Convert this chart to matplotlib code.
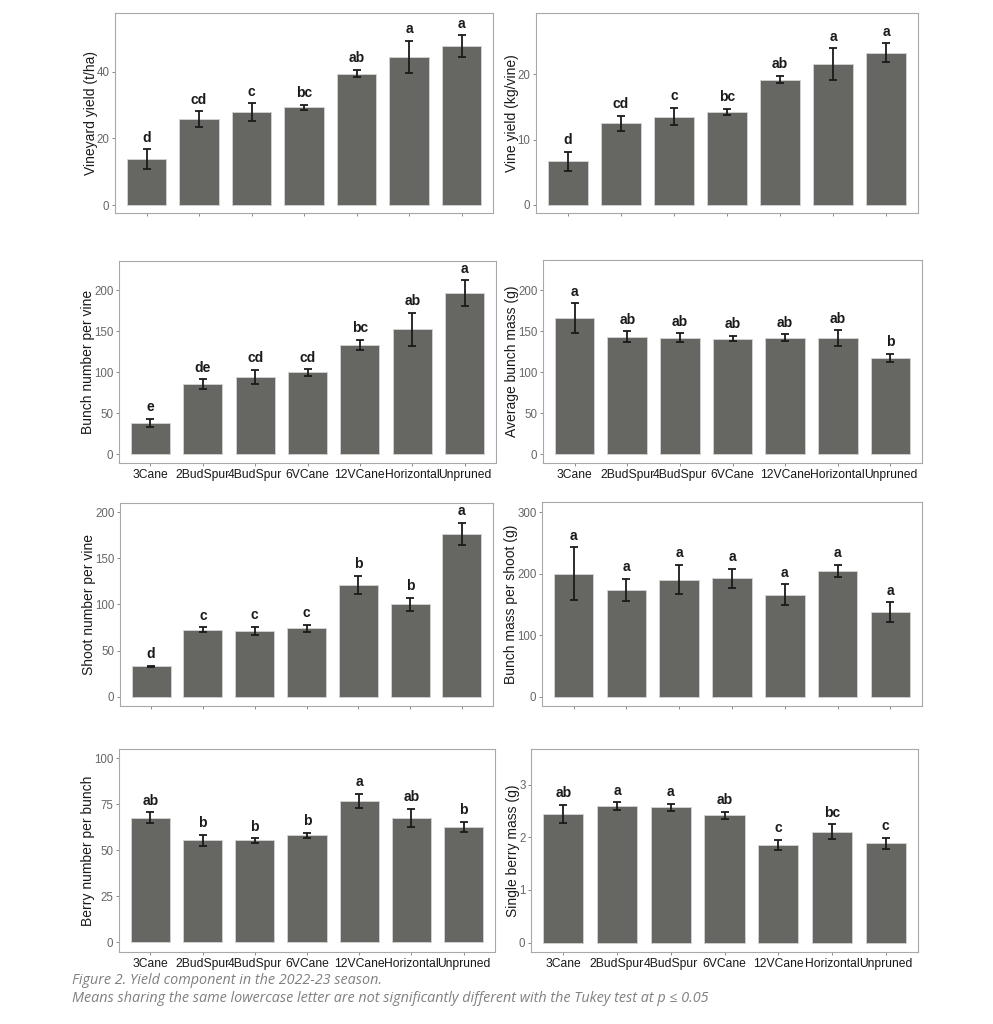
import numpy as np
import matplotlib
matplotlib.use('Agg')
import matplotlib.pyplot as plt

plt.rcParams['font.family'] = ['Liberation Sans', 'DejaVu Sans']

treatments = ['3Cane', '2BudSpur', '4BudSpur', '6VCane', '12VCane', 'Horizontal', 'Unpruned']

# means, error half-widths and Tukey letters for each panel
vineyard_yield = [13.8, 25.8, 27.9, 29.4, 39.5, 44.5, 47.8]
vineyard_yield_err = [2.9, 2.4, 2.7, 0.8, 1.1, 4.9, 3.2]
vineyard_yield_let = ['d', 'cd', 'c', 'bc', 'ab', 'a', 'a']

vine_yield = [6.67, 12.5, 13.5, 14.25, 19.2, 21.6, 23.3]
vine_yield_err = [1.43, 1.15, 1.35, 0.45, 0.55, 2.4, 1.45]
vine_yield_let = ['d', 'cd', 'c', 'bc', 'ab', 'a', 'a']

bunch_number = [38.6, 85.8, 94.3, 100.0, 134.0, 152.4, 196.7]
bunch_number_err = [5.1, 5.9, 8.7, 3.9, 6.1, 20.5, 15.7]
bunch_number_let = ['e', 'de', 'cd', 'cd', 'bc', 'ab', 'a']

bunch_mass = [166.3, 143.5, 142.3, 141.0, 142.3, 141.9, 117.5]
bunch_mass_err = [17.9, 6.5, 5.3, 3.3, 4.3, 9.4, 4.9]
bunch_mass_let = ['a', 'ab', 'ab', 'ab', 'ab', 'ab', 'b']

shoot_number = [33.0, 72.5, 71.4, 73.9, 121.0, 100.0, 176.4]
shoot_number_err = [0.75, 2.9, 4.4, 3.8, 10.0, 7.1, 12.0]
shoot_number_let = ['d', 'c', 'c', 'c', 'b', 'b', 'a']

mass_per_shoot = [200.5, 173.9, 190.8, 193.0, 166.3, 204.9, 137.5]
mass_per_shoot_err = [42.7, 17.9, 24.2, 15.2, 17.1, 9.8, 16.3]
mass_per_shoot_let = ['a', 'a', 'a', 'a', 'a', 'a', 'a']

berry_number = [67.7, 55.4, 55.4, 58.1, 76.8, 67.7, 62.8]
berry_number_err = [2.9, 3.2, 1.2, 1.55, 3.9, 5.0, 2.6]
berry_number_let = ['ab', 'b', 'b', 'b', 'a', 'ab', 'b']

berry_mass = [2.45, 2.59, 2.57, 2.42, 1.86, 2.11, 1.89]
berry_mass_err = [0.17, 0.075, 0.07, 0.065, 0.095, 0.135, 0.105]
berry_mass_let = ['ab', 'a', 'a', 'ab', 'c', 'bc', 'c']

panels = [
    # (pixel box x0, y0, x1, y1), ylabel, means, err, letters, ylim, yticks, show x labels
    ((115, 13, 493, 213), 'Vineyard yield (t/ha)', vineyard_yield, vineyard_yield_err,
     vineyard_yield_let, (-2.4, 57.7), [0, 20, 40], False),
    ((536, 13, 918, 213), 'Vine yield (kg/vine)', vine_yield, vine_yield_err,
     vine_yield_let, (-1.27, 29.4), [0, 10, 20], False),
    ((119, 261, 496, 463), 'Bunch number per vine', bunch_number, bunch_number_err,
     bunch_number_let, (-10.6, 236), [0, 50, 100, 150, 200], True),
    ((543, 260, 922, 463), 'Average bunch mass (g)', bunch_mass, bunch_mass_err,
     bunch_mass_let, (-10.6, 237), [0, 50, 100, 150, 200], True),
    ((120, 503, 493, 706), 'Shoot number per vine', shoot_number, shoot_number_err,
     shoot_number_let, (-10.1, 209.8), [0, 50, 100, 150, 200], False),
    ((542, 502, 922, 706), 'Bunch mass per shoot (g)', mass_per_shoot, mass_per_shoot_err,
     mass_per_shoot_let, (-14.7, 316.8), [0, 100, 200, 300], False),
    ((119, 749, 495, 952), 'Berry number per bunch', berry_number, berry_number_err,
     berry_number_let, (-5.3, 105.1), [0, 25, 50, 75, 100], True),
    ((531, 749, 918, 952), 'Single berry mass (g)', berry_mass, berry_mass_err,
     berry_mass_let, (-0.18, 3.68), [0, 1, 2, 3], True),
]

W, H = 993, 1024
fig = plt.figure(figsize=(W / 100, H / 100), dpi=100)

x = np.arange(len(treatments))
for box, ylab, means, err, letters, ylim, yticks, xlabels in panels:
    x0, y0, x1, y1 = box
    ax = fig.add_axes([x0 / W, 1 - y1 / H, (x1 - x0) / W, (y1 - y0) / H])
    ax.bar(x, means, width=0.75, color='#666763', edgecolor='#d4d4d4', linewidth=0.6, zorder=2)
    ax.errorbar(x, means, yerr=err, fmt='none', ecolor='#1a1a1a', elinewidth=1.3,
                capsize=2.8, capthick=1.3, zorder=3)
    # Tukey letters above the error bars
    for xi, m, e, lab in zip(x, means, err, letters):
        ax.annotate(lab, (xi, m + e), xytext=(0, 8.3), textcoords='offset points',
                    ha='center', va='center', fontsize=10, fontweight='bold', color='#1a1a1a')
    ax.set_xlim(-0.6, 6.6)
    ax.set_ylim(*ylim)
    ax.set_yticks(yticks)
    ax.set_xticks(x)
    if xlabels:
        ax.set_xticklabels(treatments, fontsize=8.7, color='#1a1a1a')
    else:
        ax.set_xticklabels([])
    ax.tick_params(axis='y', labelsize=8.3, labelcolor='#666666', color='#777777',
                   length=2.5, width=0.6, pad=1.5)
    ax.tick_params(axis='x', color='#777777', length=2.5, width=0.6, pad=1.5)
    ax.set_ylabel(ylab, fontsize=10, color='#1a1a1a', labelpad=-1)
    for s in ax.spines.values():
        s.set_color('#a8a8a8')
        s.set_linewidth(0.8)

fig.text(72 / W, 1 - 981 / H, 'Figure 2. Yield component in the 2022-23 season.',
         fontsize=10.4, style='italic', color='#808080', family=['Open Sans', 'DejaVu Sans'],
         va='center', ha='left')
fig.text(72 / W, 1 - 998 / H,
         'Means sharing the same lowercase letter are not significantly different with the Tukey test at p \u2264 0.05',
         fontsize=10.4, style='italic', color='#808080', family=['Open Sans', 'DejaVu Sans'],
         va='center', ha='left')

fig.savefig('out.png', dpi=100, facecolor='white')
